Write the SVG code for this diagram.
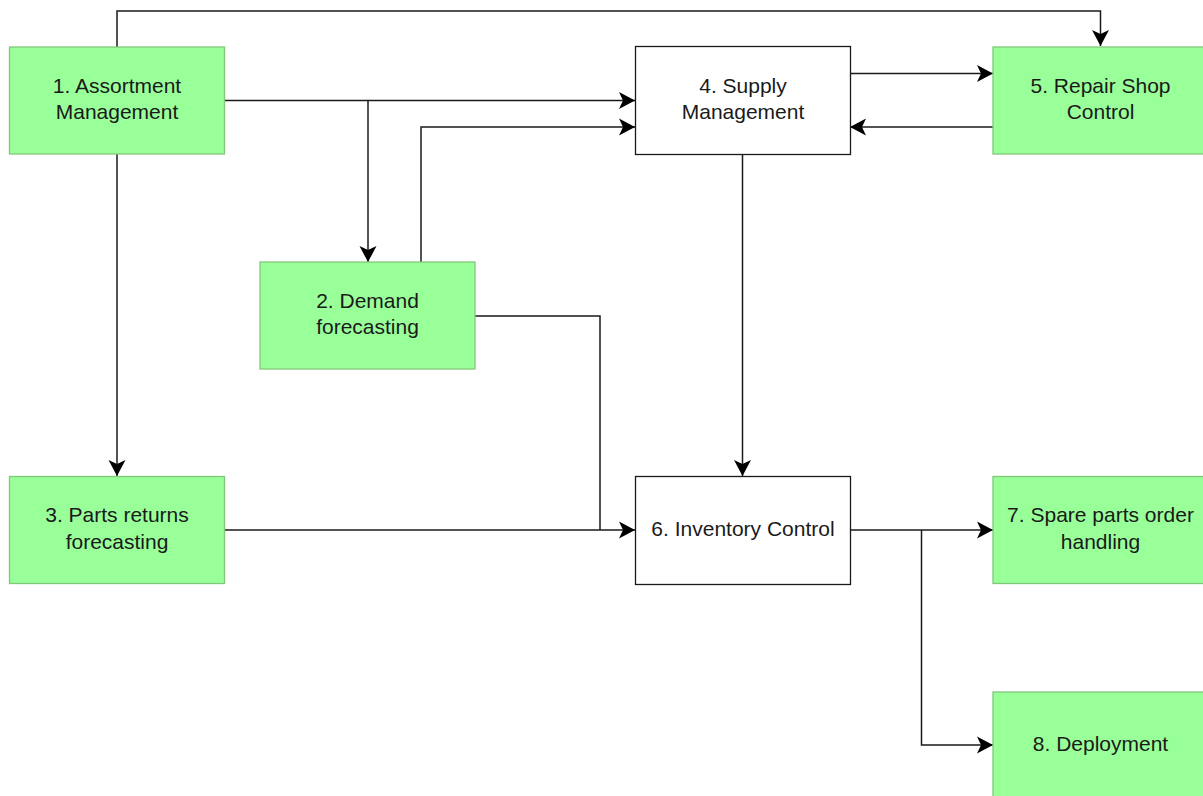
<svg xmlns="http://www.w3.org/2000/svg" width="1203" height="796" viewBox="0 0 1203 796">
<style>
.g{fill:#99ff99;stroke:#82c87a;stroke-width:1.3}
.w{fill:#ffffff;stroke:#1a1a1a;stroke-width:1.3}
.t{font-family:"Liberation Sans",Arial,sans-serif;font-size:21px;fill:#1a1a1a;text-anchor:middle}
.c{fill:none;stroke:#1a1a1a;stroke-width:1.5}
</style>
<defs>
<marker id="a" markerUnits="userSpaceOnUse" markerWidth="20" markerHeight="20" viewBox="0 0 20 20" refX="17" refY="10" orient="auto">
<path d="M1,1.5 L17,10 L1,18.5 L5,10 Z" fill="#000"/>
</marker>
</defs>
<g id="connectors">
<path class="c" d="M117,47 V11 H1100.5 V46" marker-end="url(#a)"/>
<path class="c" d="M224,100.5 H635" marker-end="url(#a)"/>
<path class="c" d="M368,100.5 V262" marker-end="url(#a)"/>
<path class="c" d="M421,262 V127 H635" marker-end="url(#a)"/>
<path class="c" d="M850,73.5 H993" marker-end="url(#a)"/>
<path class="c" d="M993,127 H850" marker-end="url(#a)"/>
<path class="c" d="M742.5,154 V476" marker-end="url(#a)"/>
<path class="c" d="M117,154 V476" marker-end="url(#a)"/>
<path class="c" d="M475,316 H600 V530"/>
<path class="c" d="M224,530 H635" marker-end="url(#a)"/>
<path class="c" d="M850,530 H993" marker-end="url(#a)"/>
<path class="c" d="M921.5,530 V745 H993" marker-end="url(#a)"/>
</g>
<g id="n1"><rect class="g" x="9.5" y="47" width="215" height="107"/><text class="t" x="117" y="92.5">1. Assortment</text><text class="t" x="117" y="119">Management</text></g>
<g id="n2"><rect class="g" x="260" y="262" width="215" height="107"/><text class="t" x="367.5" y="307.5">2. Demand</text><text class="t" x="367.5" y="334">forecasting</text></g>
<g id="n3"><rect class="g" x="9.5" y="476.5" width="215" height="107"/><text class="t" x="117" y="522">3. Parts returns</text><text class="t" x="117" y="548.5">forecasting</text></g>
<g id="n4"><rect class="w" x="635.5" y="46.5" width="215" height="108"/><text class="t" x="743" y="93">4. Supply</text><text class="t" x="743" y="119">Management</text></g>
<g id="n5"><rect class="g" x="993" y="47" width="215" height="107"/><text class="t" x="1100.5" y="93">5. Repair Shop</text><text class="t" x="1100.5" y="119">Control</text></g>
<g id="n6"><rect class="w" x="635.5" y="476.5" width="215" height="108"/><text class="t" x="743" y="536">6. Inventory Control</text></g>
<g id="n7"><rect class="g" x="993" y="476.5" width="215" height="107"/><text class="t" x="1100.5" y="522">7. Spare parts order</text><text class="t" x="1100.5" y="548.5">handling</text></g>
<g id="n8"><rect class="g" x="993" y="692" width="215" height="108"/><text class="t" x="1100.5" y="751">8. Deployment</text></g>
</svg>
